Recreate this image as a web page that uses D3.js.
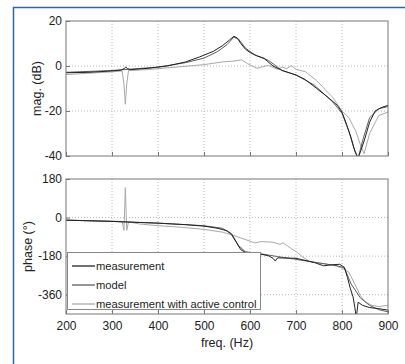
<!DOCTYPE html>
<html>
<head>
<meta charset="utf-8">
<script src="https://cdn.jsdelivr.net/npm/d3@7"></script>
<style>
  body { margin: 0; background: #fff; }
  svg { display: block; font-family: "Liberation Sans", Arial, sans-serif; }
  .tick text { font-size: 12px; fill: #222; }
</style>
</head>
<body>
<svg id="chart"></svg>
<script>
const width = 405;
const height = 364;

// ticks
const freqTicks = [200, 300, 400, 500, 600, 700, 800, 900];
const magTicks = [20, 0, -20, -40];
const phaseTicks = [180, 0, -180, -360];

// magnitude (dB)
const magMeasF = [200, 250, 300, 320, 326, 330, 334, 340, 380, 420, 460, 490, 520, 540, 555, 565, 572, 580, 590, 600, 615, 630, 650, 670, 700, 720, 745, 770, 790, 800, 810, 820, 828, 835, 842, 850, 860, 872, 885, 900];
const magMeas = [-3, -2.8, -2.2, -1.8, -1.2, -0.5, -1.2, -1.6, -1, 0, 1.8, 4, 6.5, 9, 11.5, 13.2, 12.5, 10, 7.5, 6, 4.5, 3.5, 0, -2, -4, -6, -10, -14, -17.5, -20.5, -26, -32, -38, -41, -37, -32, -25, -20, -18.5, -17.5];
const magModelF = [200, 300, 400, 460, 500, 530, 550, 565, 575, 590, 610, 640, 670, 700, 740, 780, 800, 815, 825, 835, 845, 860, 880, 900];
const magModel = [-2.8, -2, -0.5, 1.5, 3.5, 6.5, 9.5, 12.8, 12, 8, 5, 2.5, -2, -4, -8.5, -16, -21, -29, -36, -41, -33, -23, -19, -18];
const magActF = [200, 250, 300, 322, 326, 329, 332, 336, 345, 400, 450, 500, 540, 565, 582, 595, 615, 640, 660, 670, 680, 690, 700, 720, 745, 780, 800, 815, 830, 840, 848, 860, 880, 900];
const magAct = [-3.8, -3.2, -2.6, -2.2, -8, -17, -8, -2, -2, -1.2, -0.3, 0.6, 1.8, 2.2, 2.7, 1, -1, 0.3, -1.5, -0.5, -1.2, 0.2, -1.5, -2.5, -6.5, -14, -20, -23, -29, -35, -39, -30, -22, -20.5];

// phase (deg)
const phMeasF = [200, 300, 400, 460, 500, 530, 550, 560, 570, 580, 590, 610, 640, 650, 655, 660, 700, 740, 760, 780, 795, 805, 812, 818, 824, 828, 831, 835, 845, 860, 880, 900];
const phMeas = [-12, -18, -26, -33, -40, -50, -62, -80, -115, -150, -162, -165, -178, -190, -203, -188, -190, -210, -225, -220, -218, -232, -280, -330, -370, -420, -470, -395, -410, -420, -425, -432];
const phModelF = [200, 300, 400, 500, 540, 560, 575, 590, 620, 660, 700, 750, 790, 805, 820, 840, 860, 880, 900];
const phModel = [-12, -18, -26, -38, -50, -75, -130, -160, -168, -182, -195, -212, -225, -235, -310, -375, -410, -430, -440];
const phActF = [200, 300, 322, 326, 329, 332, 336, 360, 400, 450, 500, 540, 560, 580, 600, 610, 625, 650, 665, 672, 680, 690, 700, 715, 730, 760, 780, 800, 815, 830, 840, 850, 865, 880, 900];
const phAct = [-12, -16, -18, -60, 140, -60, -20, -30, -38, -45, -55, -68, -80, -95, -110, -118, -112, -115, -125, -118, -130, -145, -158, -185, -205, -215, -222, -235, -255, -320, -365, -392, -410, -415, -410];

const seriesNames = ["measurement", "model", "measurement with active control"];
const colors = ["#222", "#5e5e5e", "#a9a9a9"];

const svg = d3.select("#chart")
    .attr("width", width)
    .attr("height", height);

// marco azul
svg.append("rect")
    .attr("x", 13.5).attr("y", 7.5)
    .attr("width", 420).attr("height", 400)
    .attr("fill", "none")
    .attr("stroke", "#2f63a6")
    .attr("stroke-width", 1.5);

const xScale = d3.scaleLinear().domain([200, 900]).range([66, 388]);
const yMag = d3.scaleLinear().domain([-40, 20]).range([156, 21]);
const yPh = d3.scaleLinear().domain([-450, 180]).range([314, 179]);

// guion normal, como en el original
const fmt = d => String(d);

function panel(id, yScale, yTicks, series, ylabel, labelX, showX) {
    const g = svg.append("g").attr("id", id);
    const [y1, y0] = yScale.range();
    const clipId = id + "-clip";

    g.append("clipPath").attr("id", clipId)
        .append("rect")
        .attr("x", 66).attr("y", y0)
        .attr("width", 388 - 66).attr("height", y1 - y0);

    // rejilla
    g.selectAll(".vgrid")
        .data(freqTicks.slice(1, -1))
        .enter().append("line")
        .attr("x1", d => xScale(d)).attr("x2", d => xScale(d))
        .attr("y1", y0).attr("y2", y1)
        .attr("stroke", "#b8b8b8")
        .attr("stroke-dasharray", "1,2");
    g.selectAll(".hgrid")
        .data(yTicks.filter(d => yScale(d) > y0 + 1 && yScale(d) < y1 - 1))
        .enter().append("line")
        .attr("x1", 66).attr("x2", 388)
        .attr("y1", d => yScale(d)).attr("y2", d => yScale(d))
        .attr("stroke", "#b8b8b8")
        .attr("stroke-dasharray", "1,2");

    // curvas
    const line = d3.line()
        .x(d => xScale(d[0]))
        .y(d => yScale(d[1]));
    const lines = g.append("g").attr("clip-path", `url(#${clipId})`);
    series.slice().reverse().forEach((s, i) => {
        const idx = series.length - 1 - i;
        lines.append("path")
            .datum(d3.zip(s[0], s[1]))
            .attr("d", line)
            .attr("fill", "none")
            .attr("stroke", colors[idx])
            .attr("stroke-width", 1)
            .attr("stroke-linejoin", "round");
    });

    // ejes
    const yAxis = d3.axisLeft(yScale).tickValues(yTicks).tickFormat(fmt).tickSize(-4).tickPadding(4);
    g.append("g")
        .attr("transform", "translate(66,0)")
        .call(yAxis)
        .call(a => a.select(".domain").remove())
        .call(a => a.selectAll(".tick line").attr("stroke", "#777"));

    const xAxis = d3.axisBottom(xScale).tickValues(freqTicks).tickFormat(fmt).tickSize(-4).tickPadding(7);
    const xg = g.append("g")
        .attr("transform", `translate(0,${y1})`)
        .call(xAxis)
        .call(a => a.select(".domain").remove())
        .call(a => a.selectAll(".tick line").attr("stroke", "#777"));
    if (!showX) xg.selectAll("text").remove();

    g.append("rect")
        .attr("x", 66).attr("y", y0)
        .attr("width", 388 - 66).attr("height", y1 - y0)
        .attr("fill", "none")
        .attr("stroke", "#777")
        .attr("stroke-width", 1);

    g.append("text")
        .attr("transform", `translate(${labelX},${(y0 + y1) / 2}) rotate(-90)`)
        .attr("text-anchor", "middle")
        .attr("font-size", 12.5)
        .attr("fill", "#222")
        .text(ylabel);
    return g;
}

panel("mag", yMag, magTicks,
    [[magMeasF, magMeas], [magModelF, magModel], [magActF, magAct]],
    "mag. (dB)", 41, false);
panel("phase", yPh, phaseTicks,
    [[phMeasF, phMeas], [phModelF, phModel], [phActF, phAct]],
    "phase (°)", 32, true);

svg.append("text")
    .attr("x", (66 + 388) / 2).attr("y", 347)
    .attr("text-anchor", "middle")
    .attr("font-size", 12.5)
    .attr("fill", "#222")
    .text("freq. (Hz)");

// leyenda
const legend = svg.append("g").attr("id", "legend");
legend.append("rect")
    .attr("x", 67.5).attr("y", 252.5)
    .attr("width", 193).attr("height", 57)
    .attr("fill", "#fff")
    .attr("stroke", "#888");
seriesNames.forEach((name, i) => {
    const y = 266 + i * 19;
    legend.append("line")
        .attr("x1", 72).attr("x2", 95)
        .attr("y1", y).attr("y2", y)
        .attr("stroke", colors[i])
        .attr("stroke-width", 1.3);
    legend.append("text")
        .attr("x", 96).attr("y", y + 4)
        .attr("font-size", 11.2)
        .attr("fill", "#222")
        .text(name);
});
</script>
</body>
</html>
